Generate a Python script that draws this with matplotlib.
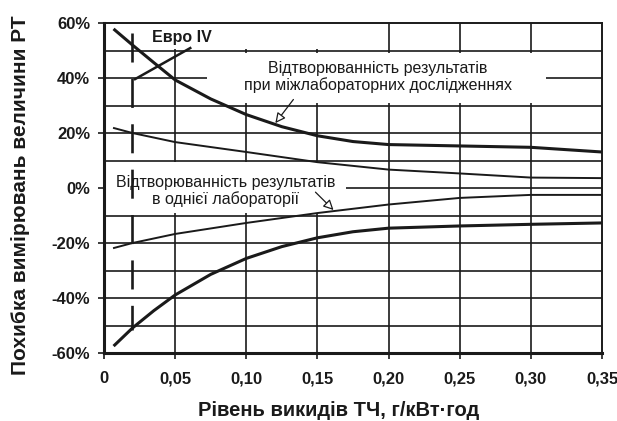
import matplotlib
matplotlib.use("Agg")
import matplotlib.pyplot as plt
from matplotlib.patches import Rectangle

plt.rcParams['font.family'] = ['Liberation Sans', 'DejaVu Sans']

# ---- data ----
x_inter = [0.0075, 0.02, 0.035, 0.05, 0.075, 0.10, 0.125, 0.15, 0.175, 0.20, 0.25, 0.30, 0.35]
inter_upper = [57.5, 52.0, 45.6, 39.3, 32.4, 26.7, 22.3, 19.0, 16.9, 15.8, 15.3, 14.8, 13.1]
inter_lower = [-57.1, -50.9, -44.6, -38.9, -31.4, -25.6, -21.3, -18.1, -15.9, -14.6, -13.8, -13.2, -12.7]

x_intra = [0.007, 0.02, 0.05, 0.10, 0.15, 0.20, 0.25, 0.30, 0.35]
intra_upper = [21.8, 20.0, 16.7, 13.1, 9.4, 6.7, 5.3, 3.8, 3.6]
intra_lower = [-21.8, -20.0, -16.7, -12.7, -9.1, -6.0, -3.6, -2.5, -2.5]

euro4_x = 0.02
euro4_span = [56.4, -51.6]

x_ticks = [0, 0.05, 0.10, 0.15, 0.20, 0.25, 0.30, 0.35]
x_ticklabels = ['0', '0,05', '0,10', '0,15', '0,20', '0,25', '0,30', '0,35']
y_ticks = [60, 40, 20, 0, -20, -40, -60]
y_ticklabels = ['60%', '40%', '20%', '0%', '-20%', '-40%', '-60%']
y_grid = [50, 40, 30, 20, 10, 0, -10, -20, -30, -40, -50]

label_inter = 'Відтворюванність результатів\nпри міжлабораторних дослідженнях'
label_intra = 'Відтворюванність результатів\nв однієї лабораторії'
label_euro = 'Евро IV'
xlabel = 'Рівень викидів ТЧ, г/кВт·год'
ylabel = 'Похибка вимірювань величини РТ'

# ---- figure ----
fig = plt.figure(figsize=(6.17, 4.21), dpi=100)
ax = fig.add_axes([0.1686, 0.1615, 0.8071, 0.7838])
ax.set_xlim(0, 0.35)
ax.set_ylim(-60, 60)

ink = '#1a1a1a'
# grid
for yv in y_grid:
    ax.axhline(yv, color=ink, lw=1.2, zorder=0.5)
for xv in x_ticks[1:-1]:
    ax.axvline(xv, color=ink, lw=1.2, zorder=0.5)

# white areas (label boxes interrupting grid)
for (x0, y0, x1, y1) in [(0.0, 50.6, 0.17, 60), (0.0725, 31.0, 0.3106, 49.2), (0.0, -9.2, 0.17, 9.6)]:
    ax.add_patch(Rectangle((x0, y0), x1 - x0, y1 - y0, facecolor='white', edgecolor='none', zorder=1))

# curves
ax.plot(x_inter, inter_upper, color=ink, lw=2.2, zorder=3, solid_joinstyle='round')
ax.plot(x_inter, inter_lower, color=ink, lw=2.2, zorder=3, solid_joinstyle='round')
ax.plot(x_intra, intra_upper, color=ink, lw=1.4, zorder=3, solid_joinstyle='round')
ax.plot(x_intra, intra_lower, color=ink, lw=1.4, zorder=3, solid_joinstyle='round')

# Euro IV dashed line
ax.plot([euro4_x, euro4_x], euro4_span, color=ink, lw=1.9, linestyle=(0, (11.0, 6.2)), zorder=3)
ax.plot([0.0218, 0.0606], [39.6, 50.9], color=ink, lw=1.8, zorder=3)
ax.text(0.0549, 54.6, label_euro, ha='center', va='center', fontsize=11.5, fontweight='bold', color=ink, zorder=4)

# annotations
ax.text(0.1923, 40.4, label_inter, ha='center', va='center', fontsize=11.5, color=ink,
        linespacing=1.15, multialignment='center', zorder=4)
ax.text(0.0852, -1.1, label_intra, ha='center', va='center', fontsize=11.5, color=ink,
        linespacing=1.15, multialignment='center', zorder=4)
arrow_kw = dict(arrowstyle='-|>,head_length=0.6,head_width=0.3', fc='white', ec=ink, lw=0.9,
                shrinkA=0, shrinkB=0)
ax.annotate('', xy=(0.1204, 23.6), xytext=(0.1331, 32.2), arrowprops=arrow_kw, zorder=4)
ax.annotate('', xy=(0.1613, -8.0), xytext=(0.1486, -1.5), arrowprops=arrow_kw, zorder=4)

# axes style
ax.set_xticks(x_ticks)
ax.set_xticklabels(x_ticklabels)
ax.set_yticks(y_ticks)
ax.set_yticklabels(y_ticklabels)
ax.tick_params(axis='both', length=4, width=1.2, color=ink, labelsize=12, labelcolor=ink)
ax.tick_params(axis='x', pad=9)
ax.tick_params(axis='y', pad=6)
for lab in ax.get_xticklabels() + ax.get_yticklabels():
    lab.set_fontweight('bold')
for side in ['left', 'bottom']:
    ax.spines[side].set_linewidth(2.2)
for side in ['top', 'right']:
    ax.spines[side].set_linewidth(1.4)
for s in ax.spines.values():
    s.set_color(ink)

fig.text(0.549, 0.026, xlabel, ha='center', va='center', fontsize=14.5, fontweight='bold', color=ink)
fig.text(0.034, 0.537, ylabel, ha='center', va='center', rotation=90, fontsize=15, fontweight='bold', color=ink)

fig.savefig('out.png', dpi=100)
